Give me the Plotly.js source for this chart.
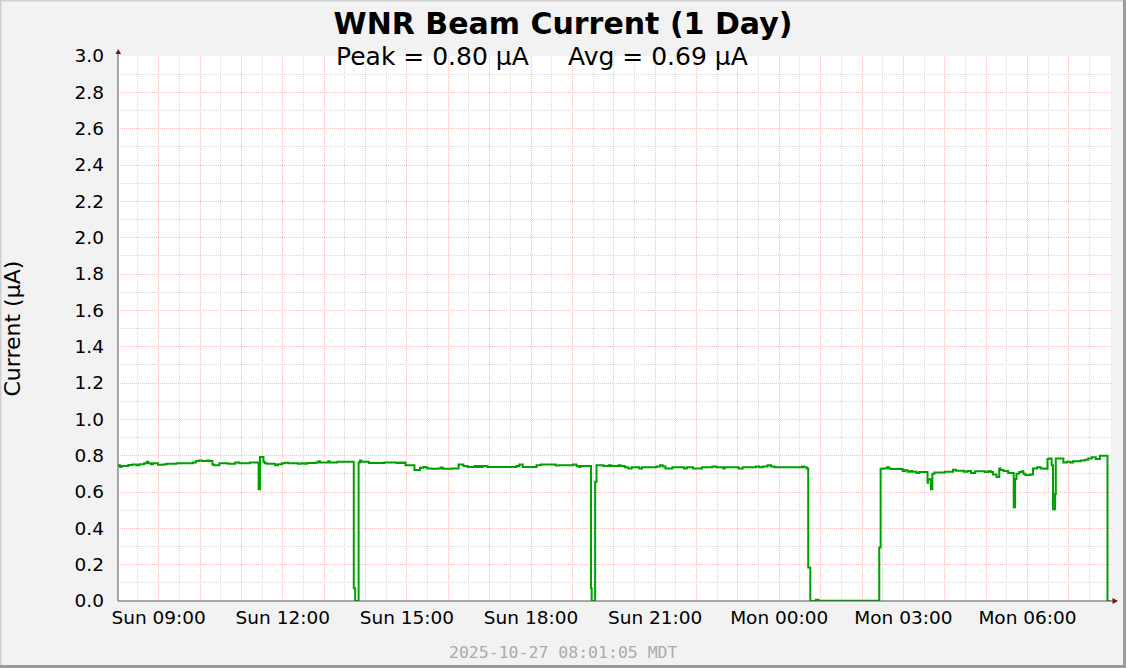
<!DOCTYPE html>
<html>
<head>
<meta charset="utf-8">
<script src="https://cdn.plot.ly/plotly-3.0.1.min.js"></script>
<style>html,body{margin:0;padding:0;background:#f2f2f2;}#chart{width:1126px;height:668px;}</style>
</head>
<body>
<div id="chart"></div>
<script>
// ---- data ----
const titleText = "WNR Beam Current (1 Day)";
const peakText = "Peak = 0.80 µA";
const avgText = "Avg = 0.69 µA";
const yTitle = "Current (µA)";
const stampText = "2025-10-27 08:01:05 MDT";
const xRange = ["2025-10-26 08:01:05", "2025-10-27 08:01:05"];

const day1Times = ["08:01","08:04","08:06","08:16","08:22","08:28","08:32","08:39","08:43","08:45","08:49","08:52","08:59",
"09:08","09:12","09:26","09:50","09:54","09:58","10:03","10:10","10:13","10:18","10:20","10:28","10:41","10:51","10:57",
"11:12","11:25","11:27","11:32","11:34","11:37","11:49","11:53","11:59","12:03","12:08","12:22","12:27","12:31","12:35",
"12:48","12:52","12:54","13:06","13:08","13:19","13:43","13:45","13:50","13:52","13:54","14:05","14:27","14:45","14:49",
"14:51","14:55","14:58","15:11","15:19","15:24","15:28","15:30","15:36","15:45","15:49","15:52","16:05","16:15","16:22",
"16:28","16:38","16:41","16:44","16:47","16:50","16:57","17:39","17:43","17:48","18:08","18:14","18:36","18:41","19:01",
"19:06","19:10","19:12","19:27","19:28","19:33","19:35","19:45","19:53","19:56","20:07","20:10","20:16","20:21","20:26",
"20:37","20:41","21:02","21:07","21:11","21:15","21:25","21:42","21:46","21:55","22:08","22:23","22:29","22:39","22:41",
"23:01","23:07","23:26","23:31","23:36","23:43","23:48","23:53"];
const day1Values = [0.747,0.738,0.743,0.748,0.752,0.747,0.753,0.758,0.767,0.758,0.753,0.758,0.750,
0.753,0.755,0.758,0.763,0.771,0.774,0.771,0.774,0.771,0.752,0.747,0.758,0.755,0.763,0.758,
0.763,0.615,0.793,0.767,0.758,0.755,0.747,0.753,0.758,0.761,0.758,0.755,0.758,0.755,0.760,
0.763,0.769,0.763,0.769,0.763,0.766,0.070,0.000,0.763,0.774,0.766,0.760,0.763,0.760,0.763,
0.760,0.763,0.747,0.721,0.734,0.737,0.734,0.730,0.728,0.730,0.735,0.728,0.730,0.752,0.743,
0.738,0.743,0.738,0.743,0.738,0.743,0.738,0.743,0.752,0.738,0.747,0.752,0.746,0.747,0.752,
0.743,0.738,0.743,0.070,0.000,0.657,0.747,0.743,0.747,0.743,0.747,0.743,0.736,0.730,0.736,
0.730,0.736,0.741,0.747,0.740,0.730,0.736,0.730,0.736,0.730,0.736,0.741,0.736,0.730,0.736,
0.730,0.736,0.741,0.736,0.741,0.747,0.741,0.736];

const day2Times = ["00:33","00:36","00:40","00:42","00:45","00:53","00:57","02:25","02:27","02:30","02:36","02:39","02:42",
"02:59","03:02","03:06","03:10","03:13","03:19","03:23","03:35","03:36","03:40","03:42","03:45","04:00","04:12","04:16",
"04:28","04:33","04:38","04:44","04:58","05:03","05:07","05:10","05:15","05:19","05:21","05:25","05:32","05:40","05:42",
"05:44","05:48","05:52","05:54","05:57","06:04","06:08","06:14","06:19","06:25","06:29","06:31","06:35","06:37","06:40",
"06:41","06:52","06:57","07:02","07:06","07:17","07:23","07:28","07:33","07:39","07:45","07:56","08:00"];
const day2Values = [0.741,0.736,0.730,0.185,0.000,0.007,0.002,0.295,0.728,0.730,0.736,0.730,0.726,
0.716,0.720,0.712,0.716,0.712,0.705,0.710,0.651,0.670,0.615,0.700,0.708,0.712,0.723,0.717,
0.712,0.716,0.705,0.714,0.710,0.714,0.710,0.697,0.682,0.730,0.721,0.716,0.705,0.516,0.671,
0.701,0.710,0.714,0.701,0.693,0.697,0.730,0.736,0.730,0.728,0.781,0.785,0.747,0.505,0.589,
0.785,0.763,0.766,0.763,0.769,0.774,0.778,0.785,0.791,0.782,0.800,0.000,0.000];

const hourTicks = ["2025-10-26 09:00","2025-10-26 10:00","2025-10-26 11:00","2025-10-26 12:00","2025-10-26 13:00",
"2025-10-26 14:00","2025-10-26 15:00","2025-10-26 16:00","2025-10-26 17:00","2025-10-26 18:00","2025-10-26 19:00",
"2025-10-26 20:00","2025-10-26 21:00","2025-10-26 22:00","2025-10-26 23:00","2025-10-27 00:00","2025-10-27 01:00",
"2025-10-27 02:00","2025-10-27 03:00","2025-10-27 04:00","2025-10-27 05:00","2025-10-27 06:00","2025-10-27 07:00",
"2025-10-27 08:00"];
const hourLabels = ["Sun 09:00","","","Sun 12:00","","","Sun 15:00","","","Sun 18:00","","","Sun 21:00","","",
"Mon 00:00","","","Mon 03:00","","","Mon 06:00","",""];

// ---- build ----
const times = day1Times.map(t => "2025-10-26 " + t).concat(day2Times.map(t => "2025-10-27 " + t));
const values = day1Values.concat(day2Values);

const L = 118, R = 1111, T = 56, B = 601, W = 1126, H = 668;
const px = p => (p - L) / (R - L);
const py = p => (B - p) / (B - T);
const FONT = "DejaVu Sans";
const MAJ = "#efc2c2", MIN = "#d8d8d8";

const trace = {
  x: times, y: values, type: "scatter", mode: "lines",
  line: {shape: "hv", color: "#00a000", width: 2},
  hoverinfo: "skip"
};

const shapes = [
  // axis lines
  {type:"line", xref:"paper", yref:"paper", x0:px(L), x1:px(1115), y0:0, y1:0, line:{color:"#555", width:1}},
  {type:"line", xref:"paper", yref:"paper", x0:0, x1:0, y0:0, y1:py(51), line:{color:"#555", width:1}},
  // arrow heads
  {type:"path", xref:"paper", yref:"paper", line:{width:0}, fillcolor:"#7a1010",
   path:`M ${px(115.5)} ${py(54)} L ${px(121)} ${py(54)} L ${px(118.3)} ${py(49)} Z`},
  {type:"path", xref:"paper", yref:"paper", line:{width:0}, fillcolor:"#7a1010",
   path:`M ${px(1112.5)} ${py(598)} L ${px(1112.5)} ${py(604)} L ${px(1118)} ${py(601)} Z`},
  // frame
  {type:"line", xref:"paper", yref:"paper", x0:px(0), x1:px(W), y0:py(0.5), y1:py(0.5), line:{color:"#cfcfcf", width:2}},
  {type:"line", xref:"paper", yref:"paper", x0:px(0.5), x1:px(0.5), y0:py(0), y1:py(H), line:{color:"#cfcfcf", width:2}},
  {type:"line", xref:"paper", yref:"paper", x0:px(W-1.5), x1:px(W-1.5), y0:py(0), y1:py(H), line:{color:"#9a9a9a", width:3}},
  {type:"line", xref:"paper", yref:"paper", x0:px(0), x1:px(W), y0:py(H-1.5), y1:py(H-1.5), line:{color:"#9a9a9a", width:3}}
];

const annotations = [
  {text: peakText, xref:"paper", yref:"paper", x:px(333.5), y:py(57), xanchor:"left", yanchor:"middle",
   showarrow:false, font:{family:FONT, size:25, color:"#000"}},
  {text: avgText, xref:"paper", yref:"paper", x:px(565.5), y:py(57), xanchor:"left", yanchor:"middle",
   showarrow:false, font:{family:FONT, size:25, color:"#000"}},
  {text: yTitle, xref:"paper", yref:"paper", x:px(11.5), y:py(329), xanchor:"center", yanchor:"middle",
   textangle:-90, showarrow:false, font:{family:FONT, size:22, color:"#000"}},
  {text: stampText, xref:"paper", yref:"paper", x:px(563), y:py(652), xanchor:"center", yanchor:"middle",
   showarrow:false, font:{family:"DejaVu Sans Mono", size:16.5, color:"#ababab"}}
];

const layout = {
  width: W, height: H,
  margin: {l: L, r: W - R, t: T, b: H - B, pad: 0},
  paper_bgcolor: "#f2f2f2", plot_bgcolor: "#ffffff",
  showlegend: false,
  title: {text: "<b>" + titleText + "</b>", xref:"container", yref:"container", x:0.5, y:1 - 23/H,
          xanchor:"center", yanchor:"middle", font:{family:FONT, size:30, color:"#000"}},
  xaxis: {
    type:"date", range:xRange, tickmode:"array", tickvals:hourTicks, ticktext:hourLabels,
    showgrid:true, gridcolor:MAJ, griddash:"1px,1px", gridwidth:1,
    minor:{tickmode:"linear", tick0:"2025-10-26 08:30", dtick:1800000, showgrid:true, gridcolor:MIN, griddash:"1px,1px", gridwidth:1},
    showline:false, zeroline:false, ticks:"", ticklabelstandoff:3,
    tickfont:{family:FONT, size:18.5, color:"#000"}, automargin:false, fixedrange:true
  },
  yaxis: {
    range:[0, 3.0], tickmode:"linear", tick0:0, dtick:0.2, tickformat:".1f",
    showgrid:true, gridcolor:MAJ, griddash:"1px,1px", gridwidth:1,
    minor:{tickmode:"linear", tick0:0, dtick:0.1, showgrid:true, gridcolor:MIN, griddash:"1px,1px", gridwidth:1},
    showline:false, zeroline:false, ticks:"", ticklabelstandoff:13,
    tickfont:{family:FONT, size:18.5, color:"#000"}, automargin:false, fixedrange:true
  },
  shapes: shapes,
  annotations: annotations
};

Plotly.newPlot("chart", [trace], layout, {displayModeBar:false, staticPlot:true});
</script>
</body>
</html>
